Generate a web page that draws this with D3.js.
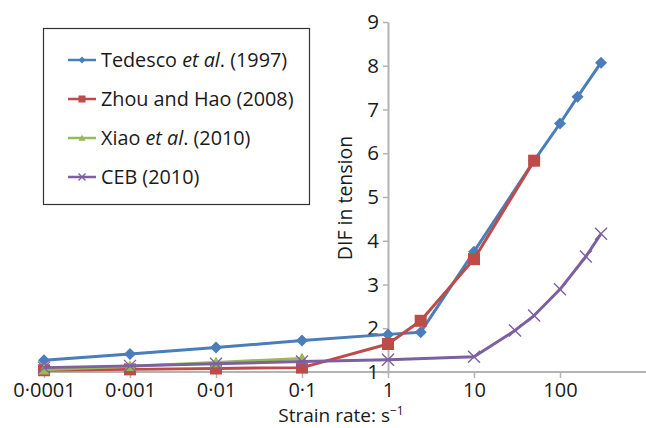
<!DOCTYPE html>
<html>
<head>
<meta charset="utf-8">
<script src="https://cdn.jsdelivr.net/npm/d3@7"></script>
<style>
  html, body { margin: 0; padding: 0; background: #fff; }
  svg { display: block; font-family: "Open Sans", "Noto Sans", sans-serif; }
</style>
</head>
<body>
<svg id="chart" width="646" height="428"></svg>
<script>
// ---- data ----
const xTickValues = [0.0001, 0.001, 0.01, 0.1, 1, 10, 100];
const xTickLabels = ["0·0001", "0·001", "0·01", "0·1", "1", "10", "100"];
const yTickValues = [1, 2, 3, 4, 5, 6, 7, 8, 9];

const tedescoX = [0.0001, 0.001, 0.01, 0.1, 1, 2.4, 10, 50, 100, 160, 300];
const tedescoY = [1.27, 1.41, 1.56, 1.72, 1.86, 1.91, 3.75, 5.83, 6.68, 7.29, 8.07];

const zhouX = [0.0001, 0.001, 0.01, 0.1, 1, 2.4, 10, 50];
const zhouY = [1.04, 1.06, 1.08, 1.10, 1.64, 2.17, 3.58, 5.83];

const xiaoX = [0.0001, 0.001, 0.01, 0.1];
const xiaoY = [1.05, 1.13, 1.22, 1.31];

const cebX = [0.0001, 0.001, 0.01, 0.1, 1, 10, 30, 50, 100, 200, 300];
const cebY = [1.10, 1.14, 1.19, 1.24, 1.28, 1.35, 1.95, 2.29, 2.89, 3.64, 4.16];

const seriesNames = ["Tedesco ", "Zhou and Hao (2008)", "Xiao ", "CEB (2010)"];
const seriesColors = ["#4a7ebb", "#be4b48", "#98b954", "#7d60a0"];
const seriesMarkers = ["diamond", "square", "triangle", "cross"];

// ---- build ----
const svg = d3.select("#chart");
const x = d3.scaleLog().domain([1e-4, 1e3]).range([44, 646]);
const y = d3.scaleLinear().domain([1, 9]).range([372, 22]);

const series = [
  { xs: tedescoX, ys: tedescoY },
  { xs: zhouX, ys: zhouY },
  { xs: xiaoX, ys: xiaoY },
  { xs: cebX, ys: cebY }
].map((s, i) => ({
  name: seriesNames[i], color: seriesColors[i], marker: seriesMarkers[i],
  pts: s.xs.map((v, j) => [v, s.ys[j]])
}));

const axisColor = "#b3b3b3";
const textColor = "#1a1a1a";

// X axis (crosses at y = 1)
const xAxis = d3.axisBottom(x)
  .tickValues(xTickValues)
  .tickFormat((d, i) => xTickLabels[i])
  .tickSize(6).tickSizeOuter(0).tickPadding(5);
const gx = svg.append("g").attr("transform", `translate(0,${y(1)})`).call(xAxis);
gx.select(".domain").attr("stroke", axisColor).attr("stroke-width", 2)
  .attr("d", `M${x(1e-4)},0H646`);
gx.selectAll(".tick line").attr("stroke", axisColor).attr("stroke-width", 1.5);
gx.selectAll(".tick text").attr("fill", textColor).attr("font-size", 20)
  .attr("font-family", "Open Sans, Noto Sans, sans-serif").attr("dy", "0.71em");

// Y axis (crosses at x = 1)
const yAxis = d3.axisLeft(y).tickValues(yTickValues).tickFormat(d3.format("d"))
  .tickSize(5).tickSizeOuter(0).tickPadding(4);
const gy = svg.append("g").attr("transform", `translate(${x(1)},0)`).call(yAxis);
gy.select(".domain").attr("stroke", axisColor).attr("stroke-width", 2);
gy.selectAll(".tick line").attr("stroke", axisColor).attr("stroke-width", 1.5);
gy.selectAll(".tick text").attr("fill", textColor).attr("font-size", 20.5)
  .attr("font-family", "Open Sans, Noto Sans, sans-serif");

// Axis titles
svg.append("text")
  .attr("transform", `translate(344,198) rotate(-90)`)
  .attr("text-anchor", "middle").attr("dominant-baseline", "central")
  .attr("font-size", 19.5).attr("fill", textColor)
  .text("DIF in tension");

const xt = svg.append("text")
  .attr("x", 341).attr("y", 422).attr("text-anchor", "middle")
  .attr("font-size", 19).attr("fill", textColor);
xt.append("tspan").text("Strain rate: s");
xt.append("tspan").attr("font-size", 12).attr("dy", -7).text("−1");

// Marker drawing
function drawMarker(g, type, color, size) {
  const s = size;
  if (type === "diamond") {
    g.append("path").attr("d", `M0,${-s}L${s},0L0,${s}L${-s},0Z`).attr("fill", color);
  } else if (type === "square") {
    g.append("rect").attr("x", -s).attr("y", -s).attr("width", 2 * s).attr("height", 2 * s)
      .attr("fill", color);
  } else if (type === "triangle") {
    g.append("path").attr("d", `M0,${-s}L${s},${s * 0.8}L${-s},${s * 0.8}Z`).attr("fill", color);
  } else if (type === "cross") {
    g.append("path").attr("d", `M${-s},${-s}L${s},${s}M${-s},${s}L${s},${-s}`)
      .attr("stroke", color).attr("stroke-width", 1.4).attr("fill", "none");
  }
}
const markerSize = { diamond: 6, square: 6, triangle: 6, cross: 6 };

// Series
const line = d3.line().x(d => x(d[0])).y(d => y(d[1]));
series.forEach(s => {
  const g = svg.append("g");
  g.append("path").attr("d", line(s.pts)).attr("fill", "none")
    .attr("stroke", s.color).attr("stroke-width", 3).attr("stroke-linejoin", "round");
  s.pts.forEach(p => {
    const m = g.append("g").attr("transform", `translate(${x(p[0])},${y(p[1])})`);
    drawMarker(m, s.marker, s.color, markerSize[s.marker]);
  });
});

// Legend
const lg = svg.append("g");
lg.append("rect").attr("x", 43.5).attr("y", 28.5).attr("width", 266).attr("height", 176)
  .attr("fill", "#fff").attr("stroke", "#333").attr("stroke-width", 1.2);
const rowY = [60, 99, 138, 177];
series.forEach((s, i) => {
  const ry = rowY[i];
  lg.append("line").attr("x1", 68).attr("x2", 96).attr("y1", ry).attr("y2", ry)
    .attr("stroke", s.color).attr("stroke-width", 2.5);
  const m = lg.append("g").attr("transform", `translate(82,${ry})`);
  drawMarker(m, s.marker, s.color, 3.5);
  const t = lg.append("text").attr("x", 101).attr("y", ry + 7)
    .attr("font-size", 19.8).attr("fill", textColor);
  if (i === 0) {
    t.append("tspan").text("Tedesco ");
    t.append("tspan").attr("font-style", "italic").text("et al");
    t.append("tspan").text(". (1997)");
  } else if (i === 2) {
    t.append("tspan").text("Xiao ");
    t.append("tspan").attr("font-style", "italic").text("et al");
    t.append("tspan").text(". (2010)");
  } else {
    t.text(s.name);
  }
});
</script>
</body>
</html>
